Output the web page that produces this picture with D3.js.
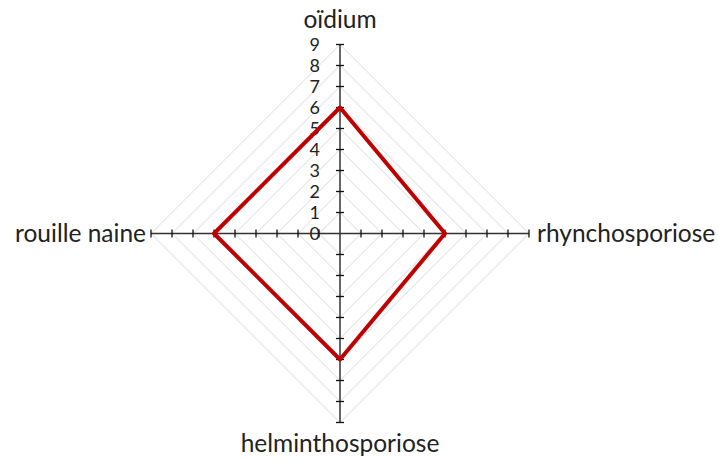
<!DOCTYPE html>
<html>
<head>
<meta charset="utf-8">
<script src="https://cdn.jsdelivr.net/npm/d3@7"></script>
<style>
  body { margin: 0; background: #fff; }
  text { font-family: Lato, "Open Sans", sans-serif; fill: #222; }
</style>
</head>
<body>
<svg width="718" height="461"></svg>
<script>
const categories = ["oïdium", "rhynchosporiose", "helminthosporiose", "rouille naine"];
const values = [6, 5, 6, 6];
const tickValues = [0, 1, 2, 3, 4, 5, 6, 7, 8, 9];

const svg = d3.select("svg");
const cx = 340, cy = 233.5;
const r = d3.scaleLinear().domain([0, 9]).range([0, 189]);
const angle = i => -Math.PI / 2 + i * Math.PI / 2;
const pt = (i, v) => [cx + r(v) * Math.cos(angle(i)), cy + r(v) * Math.sin(angle(i))];

// grid diamonds
svg.append("g").selectAll("path.grid")
    .data(tickValues.slice(1))
    .join("path")
    .attr("class", "grid")
    .attr("d", v => d3.line()(categories.map((c, i) => pt(i, v))) + "Z")
    .attr("fill", "none")
    .attr("stroke", "#d9d9d9")
    .attr("stroke-width", 1);

// spokes with cross ticks
const axes = svg.append("g");
categories.forEach((c, i) => {
    const [x2, y2] = pt(i, 9);
    axes.append("line")
        .attr("x1", cx).attr("y1", cy).attr("x2", x2).attr("y2", y2)
        .attr("stroke", "#333").attr("stroke-width", 1.5);
    const a = angle(i);
    const nx = -Math.sin(a), ny = Math.cos(a);
    tickValues.slice(1).forEach(v => {
        const [x, y] = pt(i, v);
        axes.append("line")
            .attr("x1", x - 4 * nx).attr("y1", y - 4 * ny)
            .attr("x2", x + 4 * nx).attr("y2", y + 4 * ny)
            .attr("stroke", "#111").attr("stroke-width", 1.3);
    });
});

// tick labels on the top spoke
svg.append("g").selectAll("text.tick")
    .data(tickValues)
    .join("text")
    .attr("class", "tick")
    .attr("x", cx - 20)
    .attr("y", v => cy - r(v))
    .attr("dy", "0.36em")
    .attr("text-anchor", "end")
    .attr("font-size", 18)
    .text(d => d);

// series
svg.append("path")
    .attr("d", d3.line()(values.map((v, i) => pt(i, v))) + "Z")
    .attr("fill", "none")
    .attr("stroke", "#c00000")
    .attr("stroke-width", 4)
    .attr("stroke-linejoin", "round");

// category labels
const lab = svg.append("g").attr("font-size", 24.5);
lab.append("text").attr("x", cx).attr("y", 28).attr("text-anchor", "middle").text(categories[0]);
lab.append("text").attr("x", 537).attr("y", cy).attr("dy", "0.36em").attr("text-anchor", "start").text(categories[1]);
lab.append("text").attr("x", cx).attr("y", 452).attr("text-anchor", "middle").text(categories[2]);
lab.append("text").attr("x", 146).attr("y", cy).attr("dy", "0.36em").attr("text-anchor", "end").text(categories[3]);
</script>
</body>
</html>
